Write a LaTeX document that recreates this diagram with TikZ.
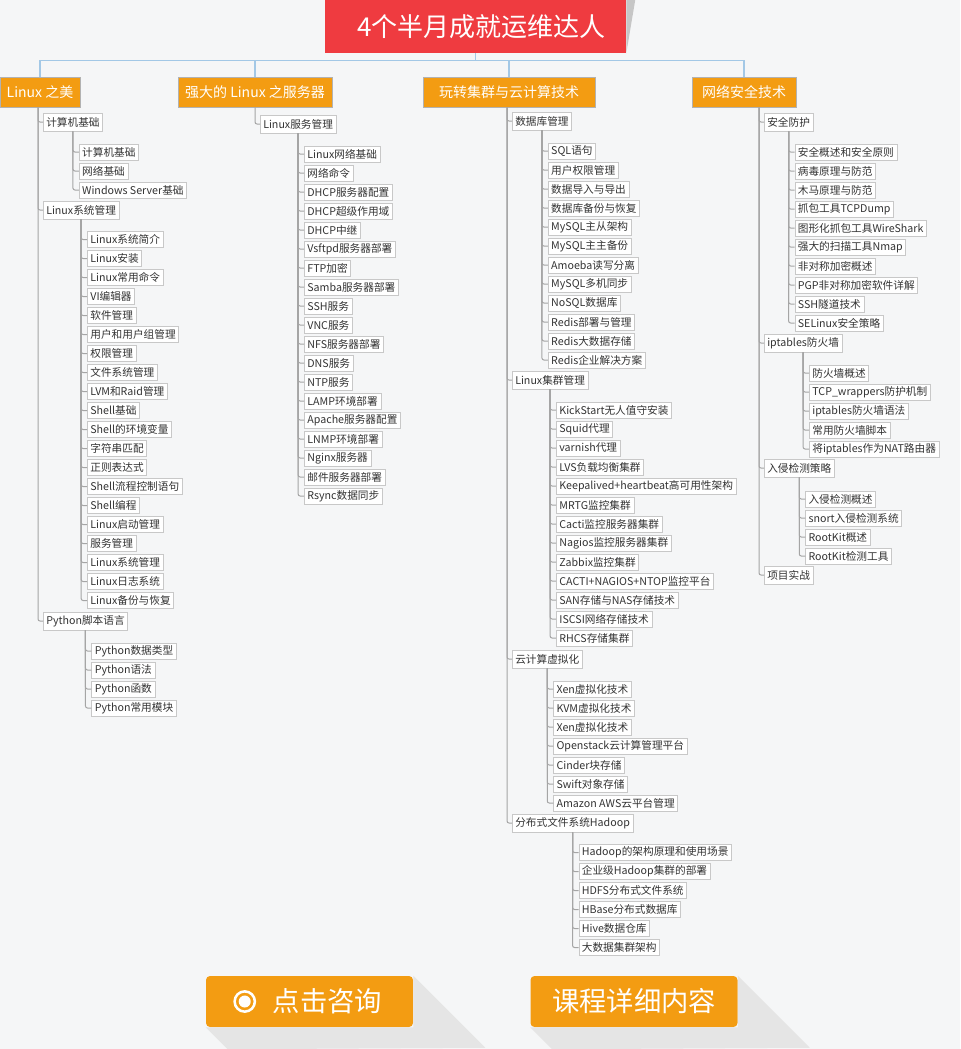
\documentclass[tikz,border=0pt]{standalone}
\usepackage{fontspec}
\setmainfont{Noto Sans CJK SC}
\usetikzlibrary{positioning}
\definecolor{pagebg}{RGB}{245,246,247}
\definecolor{titlered}{RGB}{239,59,64}
\definecolor{courseorange}{RGB}{243,156,18}
\definecolor{buslink}{RGB}{163,200,230}
\definecolor{treegray}{RGB}{165,165,165}
\definecolor{boxgray}{RGB}{200,200,200}
\definecolor{shadowgray}{RGB}{229,229,229}
\tikzstyle{titlestep}=[fill=titlered,text=white,font=\fontsize{19.5}{24}\selectfont,minimum width=225.75pt,minimum height=39.75pt,inner sep=0pt]
\tikzstyle{groupstep}=[fill=courseorange,draw=black!30,text=white,font=\fontsize{10.5}{12}\selectfont,minimum height=22.5pt,inner sep=0pt]
\tikzstyle{boxstep}=[draw=boxgray,fill=white,text=black!80,font=\fontsize{8}{9}\selectfont,anchor=west,inner xsep=2.25pt,inner ysep=0pt]
\tikzstyle{topicstep}=[boxstep,minimum height=13.5pt,xshift=3.75pt]
\tikzstyle{itemstep}=[boxstep,minimum height=12pt,xshift=4.5pt]
\tikzstyle{buttonstep}=[fill=courseorange,text=white,rounded corners=3pt,font=\fontsize{20.5}{24}\selectfont,minimum width=155.25pt,minimum height=38.25pt,inner sep=0pt]
\tikzstyle{busarc}=[draw=buslink,line width=1pt]
\tikzstyle{treearc}=[draw=treegray,line width=0.75pt,rounded corners=1.5pt]
\tikzstyle{longshadow}=[fill=shadowgray]

\begin{document}
\begin{tikzpicture}[x=0.75pt,y=-0.75pt]
\fill[pagebg] (0,0) rectangle (960,1049);
\useasboundingbox (0,0) rectangle (960,1049);

\node[titlestep] (title) at (475.5,26.5) {\hspace*{9pt}4个半月成就运维达人};
\fill[gray!45] (title.north east) -- ++(9,0) -- (title.south east) -- cycle;

\node[groupstep,minimum width=60pt] (G1) at (40,92) {Linux 之美};
\node[groupstep,minimum width=115.5pt] (G2) at (255,92) {强大的 Linux 之服务器};
\node[groupstep,minimum width=129pt] (G3) at (509,92) {玩转集群与云计算技术};
\node[groupstep,minimum width=78pt] (G4) at (744,92) {网络安全技术};

\coordinate (hub) at ([shift={(0,7)}]title.south);
\draw[busarc] (title.south) -- (hub);
\foreach \g in {G1,G2,G3,G4}
  \draw[busarc] (hub) -| (\g.north);

\coordinate (T1) at ([shift={(-2,0)}]G1.south);
\coordinate (T2) at (G2.south);
\coordinate (T3) at ([shift={(-2,0)}]G3.south);
\coordinate (T4) at ([shift={(15,0)}]G4.south);

\node[topicstep] (A1) at (T1 |- 0,122) {计算机基础};
\node[topicstep] (A2) at (T1 |- 0,210) {Linux系统管理};
\node[topicstep] (A3) at (T1 |- 0,621) {Python脚本语言};
\node[topicstep] (B1) at (T2 |- 0,124) {Linux服务管理};
\node[topicstep] (C1) at (T3 |- 0,121) {数据库管理};
\node[topicstep] (C2) at (T3 |- 0,380) {Linux集群管理};
\node[topicstep] (C3) at (T3 |- 0,659) {云计算虚拟化};
\node[topicstep] (C4) at (T3 |- 0,823) {分布式文件系统Hadoop};
\node[topicstep] (D1) at (T4 |- 0,122) {安全防护};
\node[topicstep] (D2) at (T4 |- 0,343) {iptables防火墙};
\node[topicstep] (D3) at (T4 |- 0,468) {入侵检测策略};
\node[topicstep] (D4) at (T4 |- 0,575) {项目实战};

\foreach \n in {A1,A2,A3} \draw[treearc] (T1) |- (\n.west);
\draw[treearc] (T2) |- (B1.west);
\foreach \n in {C1,C2,C3,C4} \draw[treearc] (T3) |- (\n.west);
\foreach \n in {D1,D2,D3,D4} \draw[treearc] (T4) |- (\n.west);

\foreach \t [count=\i, evaluate=\i as \yy using 133+19*\i] in {计算机基础,网络基础,Windows Server基础}{
  \node[itemstep] (A1-\i) at (A1.south |- 0,\yy) {\t};
  \draw[treearc] (A1.south) |- (A1-\i.west);
}
\foreach \t [count=\i, evaluate=\i as \yy using 220.5+19*\i] in {Linux系统简介,Linux安装,Linux常用命令,VI编辑器,软件管理,用户和用户组管理,权限管理,文件系统管理,LVM和Raid管理,Shell基础,Shell的环境变量,字符串匹配,正则表达式,Shell流程控制语句,Shell编程,Linux启动管理,服务管理,Linux系统管理,Linux日志系统,Linux备份与恢复}{
  \node[itemstep] (A2-\i) at (A2.south |- 0,\yy) {\t};
  \draw[treearc] (A2.south) |- (A2-\i.west);
}
\foreach \t [count=\i, evaluate=\i as \yy using 632+19*\i] in {Python数据类型,Python语法,Python函数,Python常用模块}{
  \node[itemstep] (A3-\i) at (A3.south |- 0,\yy) {\t};
  \draw[treearc] (A3.south) |- (A3-\i.west);
}
\foreach \t [count=\i, evaluate=\i as \yy using 135+19*\i] in {Linux网络基础,网络命令,DHCP服务器配置,DHCP超级作用域,DHCP中继,Vsftpd服务器部署,FTP加密,Samba服务器部署,SSH服务,VNC服务,NFS服务器部署,DNS服务,NTP服务,LAMP环境部署,Apache服务器配置,LNMP环境部署,Nginx服务器,邮件服务器部署,Rsync数据同步}{
  \node[itemstep] (B1-\i) at (B1.south |- 0,\yy) {\t};
  \draw[treearc] (B1.south) |- (B1-\i.west);
}
\foreach \t [count=\i, evaluate=\i as \yy using 132+19*\i] in {SQL语句,用户权限管理,数据导入与导出,数据库备份与恢复,MySQL主从架构,MySQL主主备份,Amoeba读写分离,MySQL多机同步,NoSQL数据库,Redis部署与管理,Redis大数据存储,Redis企业解决方案}{
  \node[itemstep] (C1-\i) at (C1.south |- 0,\yy) {\t};
  \draw[treearc] (C1.south) |- (C1-\i.west);
}
\foreach \t [count=\i, evaluate=\i as \yy using 391+19*\i] in {KickStart无人值守安装,Squid代理,varnish代理,LVS负载均衡集群,Keepalived+heartbeat高可用性架构,MRTG监控集群,Cacti监控服务器集群,Nagios监控服务器集群,Zabbix监控集群,CACTI+NAGIOS+NTOP监控平台,SAN存储与NAS存储技术,ISCSI网络存储技术,RHCS存储集群}{
  \node[itemstep] (C2-\i) at (C2.south |- 0,\yy) {\t};
  \draw[treearc] (C2.south) |- (C2-\i.west);
}
\foreach \t [count=\i, evaluate=\i as \yy using 670+19*\i] in {Xen虚拟化技术,KVM虚拟化技术,Xen虚拟化技术,Openstack云计算管理平台,Cinder块存储,Swift对象存储,Amazon AWS云平台管理}{
  \node[itemstep] (C3-\i) at (C3.south |- 0,\yy) {\t};
  \draw[treearc] (C3.south) |- (C3-\i.west);
}
\foreach \t [count=\i, evaluate=\i as \yy using 833.5+19*\i] in {Hadoop的架构原理和使用场景,企业级Hadoop集群的部署,HDFS分布式文件系统,HBase分布式数据库,Hive数据仓库,大数据集群架构}{
  \node[itemstep] (C4-\i) at (C4.south |- 0,\yy) {\t};
  \draw[treearc] (C4.south) |- (C4-\i.west);
}
\foreach \t [count=\i, evaluate=\i as \yy using 133+19*\i] in {安全概述和安全原则,病毒原理与防范,木马原理与防范,抓包工具TCPDump,图形化抓包工具WireShark,强大的扫描工具Nmap,非对称加密概述,PGP非对称加密软件详解,SSH隧道技术,SELinux安全策略}{
  \node[itemstep] (D1-\i) at (D1.south |- 0,\yy) {\t};
  \draw[treearc] (D1.south) |- (D1-\i.west);
}
\foreach \t [count=\i, evaluate=\i as \yy using 354+19*\i] in {防火墙概述,TCP\_wrappers防护机制,iptables防火墙语法,常用防火墙脚本,将iptables作为NAT路由器}{
  \node[itemstep] (D2-\i) at (D2.south |- 0,\yy) {\t};
  \draw[treearc] (D2.south) |- (D2-\i.west);
}
\foreach \t [count=\i, evaluate=\i as \yy using 480+19*\i] in {入侵检测概述,snort入侵检测系统,RootKit概述,RootKit检测工具}{
  \node[itemstep] (D3-\i) at (D3.south |- 0,\yy) {\t};
  \draw[treearc] (D3.south) |- (D3-\i.west);
}

\node[buttonstep] (B1btn) at (309.5,1001.5) {\hspace*{27pt}点击咨询};
\node[buttonstep] (B2btn) at (634,1001.5) {课程详细内容};
\fill[longshadow] (B1btn.south west) -- ++(22,22) -- ([shift={(72,72)}]B1btn.north east) -- (B1btn.north east) -- (B1btn.south east) -- cycle;
\fill[longshadow] (B2btn.south west) -- ++(22,22) -- ([shift={(72,72)}]B2btn.north east) -- (B2btn.north east) -- (B2btn.south east) -- cycle;
\draw[white,line width=1.9pt] ([shift={(39,0)}]B1btn.west) circle[radius=7.6pt];
\fill[white] ([shift={(39,0)}]B1btn.west) circle[radius=4.5pt];

\end{tikzpicture}
\end{document}
